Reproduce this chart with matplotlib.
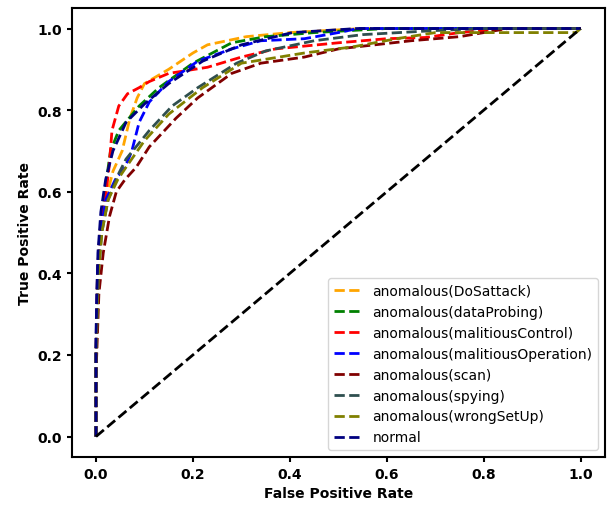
import matplotlib
matplotlib.use("Agg")
import matplotlib.pyplot as plt

# ROC points (fpr, tpr per class)
fpr_dos = [0, 0, 0.004, 0.01, 0.02, 0.035, 0.054, 0.07, 0.085, 0.1, 0.15, 0.2, 0.23, 0.31, 0.4, 0.55, 1]
tpr_dos = [0, 0.2, 0.4, 0.5, 0.58, 0.65, 0.7, 0.78, 0.83, 0.865, 0.9, 0.94, 0.96, 0.98, 0.99, 1.0, 1]

fpr_probe = [0, 0, 0.003, 0.008, 0.018, 0.03, 0.047, 0.089, 0.13, 0.2, 0.28, 0.35, 0.45, 0.6, 1]
tpr_probe = [0, 0.2, 0.4, 0.5, 0.6, 0.7, 0.75, 0.81, 0.855, 0.915, 0.965, 0.98, 0.99, 1.0, 1]

fpr_ctrl = [0, 0, 0.003, 0.008, 0.015, 0.022, 0.027, 0.033, 0.047, 0.065, 0.089, 0.11, 0.15, 0.23, 0.3, 0.37, 0.5, 0.6, 0.68, 0.75, 0.85, 1]
tpr_ctrl = [0, 0.2, 0.4, 0.5, 0.56, 0.61, 0.66, 0.75, 0.81, 0.84, 0.855, 0.87, 0.89, 0.905, 0.93, 0.95, 0.965, 0.975, 0.978, 0.99, 1.0, 1]

fpr_oper = [0, 0, 0.003, 0.01, 0.02, 0.04, 0.06, 0.074, 0.089, 0.11, 0.15, 0.21, 0.28, 0.34, 0.43, 0.5, 0.54, 1]
tpr_oper = [0, 0.2, 0.4, 0.5, 0.58, 0.63, 0.66, 0.7, 0.77, 0.82, 0.87, 0.92, 0.95, 0.97, 0.975, 0.99, 1.0, 1]

fpr_scan = [0, 0, 0.006, 0.015, 0.028, 0.042, 0.06, 0.083, 0.11, 0.165, 0.21, 0.28, 0.34, 0.43, 0.5, 0.65, 0.75, 0.8, 0.85, 1]
tpr_scan = [0, 0.15, 0.35, 0.45, 0.54, 0.6, 0.63, 0.66, 0.71, 0.78, 0.83, 0.89, 0.915, 0.93, 0.95, 0.97, 0.98, 0.99, 1.0, 1]

fpr_spy = [0, 0, 0.005, 0.012, 0.025, 0.045, 0.062, 0.11, 0.157, 0.21, 0.29, 0.35, 0.45, 0.55, 0.7, 0.8, 1]
tpr_spy = [0, 0.2, 0.4, 0.5, 0.58, 0.64, 0.68, 0.75, 0.81, 0.855, 0.915, 0.945, 0.97, 0.985, 0.995, 1.0, 1]

fpr_setup = [0, 0, 0.005, 0.012, 0.025, 0.045, 0.062, 0.1, 0.15, 0.22, 0.3, 0.43, 0.53, 0.62, 0.7, 0.99, 1]
tpr_setup = [0, 0.2, 0.4, 0.5, 0.58, 0.63, 0.66, 0.725, 0.79, 0.855, 0.915, 0.94, 0.955, 0.975, 0.99, 0.99, 1]

fpr_normal = [0, 0, 0.004, 0.01, 0.02, 0.035, 0.062, 0.1, 0.15, 0.22, 0.3, 0.405, 0.54, 1]
tpr_normal = [0, 0.25, 0.45, 0.55, 0.63, 0.7, 0.77, 0.815, 0.865, 0.92, 0.96, 0.99, 1.0, 1]

series = [
    ("anomalous(DoSattack)", fpr_dos, tpr_dos, "orange"),
    ("anomalous(dataProbing)", fpr_probe, tpr_probe, "green"),
    ("anomalous(malitiousControl)", fpr_ctrl, tpr_ctrl, "red"),
    ("anomalous(malitiousOperation)", fpr_oper, tpr_oper, "blue"),
    ("anomalous(scan)", fpr_scan, tpr_scan, "maroon"),
    ("anomalous(spying)", fpr_spy, tpr_spy, "darkslategray"),
    ("anomalous(wrongSetUp)", fpr_setup, tpr_setup, "olive"),
    ("normal", fpr_normal, tpr_normal, "navy"),
]

fig = plt.figure(figsize=(6.08, 5.06), dpi=100)
ax = fig.add_axes([0.118, 0.095, 0.877, 0.887])

for label, fpr, tpr, color in series:
    ax.plot(fpr, tpr, linestyle="--", color=color, linewidth=2, label=label)

ax.plot([0, 1], [0, 1], "k--", linewidth=2)

ax.set_xlabel("False Positive Rate", fontsize=10, fontweight="bold")
ax.set_ylabel("True Positive Rate", fontsize=10, fontweight="bold")
for lbl in ax.get_xticklabels() + ax.get_yticklabels():
    lbl.set_fontweight("bold")
ax.tick_params(labelsize=10, width=1.5)
for s in ax.spines.values():
    s.set_linewidth(1.5)

ax.legend(loc="lower right", fontsize=10)

fig.savefig("out.png", dpi=100)
